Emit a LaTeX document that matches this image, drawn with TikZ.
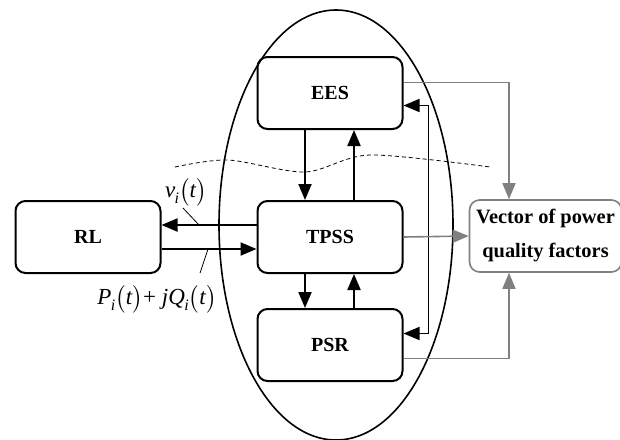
\documentclass[tikz,border=0pt]{standalone}
\usepackage{mathptmx}
\usepackage[no-math]{fontspec}
\setmainfont{Liberation Serif}
\usetikzlibrary{arrows.meta}

% italic symbol with subscript, in the text font
\newcommand{\qsym}[2]{\textit{#1}\kern-0.3pt\raisebox{-2.8pt}{\fontsize{8}{8}\selectfont\textit{#2}}}
\newcommand{\targ}{$\bigl($\textit{t}$\bigr)$}

\tikzset{
  blk/.style={draw=black, line width=1pt, rounded corners=5pt, minimum width=72.5pt, minimum height=36pt, font=\fontsize{10}{12}\selectfont\bfseries},
  gblk/.style={draw=black!50, line width=0.8pt, rounded corners=5pt, minimum width=72.5pt, minimum height=36pt, align=center, font=\fontsize{10.2}{17}\selectfont\bfseries},
  arr/.style={line width=1pt, -{Triangle[length=8pt,width=6.5pt]}},
  garr/.style={draw=black!50, line width=0.8pt, -{Triangle[length=8pt,width=6.5pt]}},
  lbl/.style={font=\fontsize{11.5}{14}\selectfont}
}

\begin{document}
\begin{tikzpicture}[x=0.5pt, y=-0.5pt]
  \useasboundingbox (0,0) rectangle (620,439);

  % subsystem boundary
  \draw[line width=0.8pt] (336,225) ellipse [x radius=58.5pt, y radius=107.5pt];
  \draw[dashed, dash pattern=on 2pt off 1.5pt, line width=0.4pt] plot[smooth] coordinates {(175,167) (228,160) (305,172) (370,155) (490,167)};

  % blocks
  \node[blk] (ees) at (330,93) {EES};
  \node[blk] (tpss) at (330,237) {TPSS};
  \node[blk] (psr) at (330,345) {PSR};
  \node[blk] (rl) at (88,237) {RL};
  \node[gblk] (vec) at (545.5,236) {Vector of power\\quality factors};

  % power flows inside the boundary
  \draw[arr] ([xshift=-12.5pt]ees.south) -- ([xshift=-12.5pt]tpss.north);
  \draw[arr] ([xshift=12pt]tpss.north) -- ([xshift=12pt]ees.south);
  \draw[arr] ([xshift=-12.5pt]tpss.south) -- ([xshift=-12.5pt]psr.north);
  \draw[arr] ([xshift=12pt]psr.north) -- ([xshift=12pt]tpss.south);
  \draw[line width=0.8pt, {Triangle[length=8pt,width=6.5pt]}-{Triangle[length=8pt,width=6.5pt]}] ([yshift=-6.25pt]ees.east) -- ++(12.5pt,0) |- ([yshift=5.75pt]psr.east);

  % load side
  \draw[arr] ([yshift=6pt]tpss.west) -- ([yshift=6pt]rl.east);
  \draw[arr] ([yshift=-6pt]rl.east) -- ([yshift=-6pt]tpss.west);
  \node[lbl] (vlab) at (186,192) {\qsym{v}{i}\targ};
  \coordinate (vtip) at (199,225);
  \draw[line width=0.4pt] (183,208) -- (vtip);
  \node[lbl] (plab) at (157,299) {\qsym{P}{i}\targ+ \textit{j}\qsym{Q}{i}\targ};
  \coordinate (ptip) at (208,249);
  \draw[line width=0.4pt] (200,273) -- (ptip);

  % quality factors
  \draw[garr] ([yshift=5.25pt]ees.east) -| ([xshift=-18.25pt]vec.north);
  \draw[garr] (tpss.east) -- (vec.west);
  \draw[garr] ([yshift=-6.75pt]psr.east) -| ([xshift=-18.25pt]vec.south);

\end{tikzpicture}
\end{document}
